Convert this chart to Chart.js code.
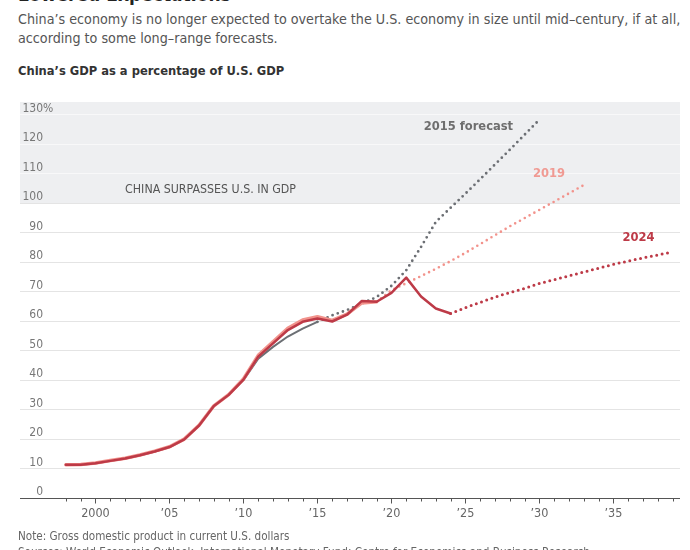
<!DOCTYPE html>
<html>
<head>
<meta charset="utf-8">
<script src="https://cdn.jsdelivr.net/npm/chart.js@4.4.1/dist/chart.umd.min.js"></script>
<style>
  html, body { margin: 0; padding: 0; background: #fff; }
  body { width: 690px; height: 550px; overflow: hidden; position: relative;
         font-family: "Liberation Sans Narrow", "DejaVu Sans Condensed", sans-serif; }
  .txt { position: absolute; left: 18px; white-space: nowrap; }
  #title { top: -17px; font-size: 19px; line-height: 22px; font-weight: bold; color: #222; }
  #dek { top: 10px; font-size: 14.2px; line-height: 18.5px; color: #555; }
  #sub { top: 63px; font-size: 12.8px; line-height: 16px; font-weight: bold; color: #333; }
  #note { top: 529px; font-size: 11.6px; line-height: 15px; color: #666; }
  #source { top: 545px; font-size: 11.6px; line-height: 15px; color: #666; }
  #wrap { position: absolute; left: 0; top: 90px; width: 690px; height: 440px; }
</style>
</head>
<body>
<div class="txt" id="title">Lowered Expectations</div>
<div class="txt" id="dek">China’s economy is no longer expected to overtake the U.S. economy in size until mid–century, if at all,<br>according to some long–range forecasts.</div>
<div class="txt" id="sub">China’s GDP as a percentage of U.S. GDP</div>
<div id="wrap"><canvas id="gdpChart"></canvas></div>
<div class="txt" id="note">Note: Gross domestic product in current U.S. dollars</div>
<div class="txt" id="source">Sources: World Economic Outlook, International Monetary Fund; Centre for Economics and Business Research</div>
<script>
// actual data as published in each vintage
const actualStart = 1998;
const actual2024 = [11.3, 11.3, 11.8, 12.6, 13.4, 14.5, 15.8, 17.3, 19.9, 24.6, 31.2, 35.0, 40.2, 48.0,
  52.5, 57.0, 59.8, 60.9, 59.9, 62.2, 66.9, 66.6, 69.6, 74.8, 68.4, 64.3, 62.6];
const actual2019 = [11.3, 11.4, 11.9, 12.7, 13.5, 14.6, 15.9, 17.4, 20.0, 24.7, 31.3, 35.1, 40.4, 48.4,
  53.0, 57.6, 60.4, 61.5, 60.3, 62.4, 66.2, 66.6];
const actual2015 = [11.3, 11.3, 11.8, 12.6, 13.4, 14.5, 15.8, 17.3, 19.9, 24.6, 31.2, 35.0, 40.0, 47.3,
  51.3, 54.8, 57.5, 59.8];

// forecasts
const forecast2015Start = 2015;
const forecast2015 = [59.8, 62.0, 63.8, 66.0, 68.2, 72.0, 77.3, 85.2, 93.7, 98.5, 103.3, 108.2, 113.2,
  118.2, 123.3, 128.4];
const forecast2019Start = 2019;
const forecast2019 = [66.6, 70.5, 72.9, 75.3, 77.8, 80.4, 83.2, 86.2, 89.2, 92.2, 95.0, 97.8, 100.6,
  103.4, 106.2];
const forecast2024Start = 2024;
const forecast2024 = [62.6, 64.6, 66.4, 68.2, 69.7, 71.1, 72.8, 74.1, 75.4, 76.7, 78.0, 79.3, 80.4,
  81.5, 82.5, 83.5];

const yTicks = [0, 10, 20, 30, 40, 50, 60, 70, 80, 90, 100, 110, 120, 130];
const xTickYears = [2000, 2005, 2010, 2015, 2020, 2025, 2030, 2035];
const xTickLabels = ['2000', '’05', '’10', '’15', '’20', '’25', '’30', '’35'];
const minorTickFrom = 1998;
const minorTickTo = 2039;
const bandFrom = 100;
const bandLabel = 'CHINA SURPASSES U.S. IN GDP';

const RED = '#bd3a47';
const SALMON = '#f2938c';
const GRAY = '#6c6f74';
const FONT = '"Liberation Sans Narrow", "DejaVu Sans Condensed", sans-serif';

const toPoints = (start, values) => values.map((v, i) => ({ x: start + i, y: v }));

const solid = (data, color, width) => ({
  data, borderColor: color, borderWidth: width, pointRadius: 0, tension: 0,
  borderJoinStyle: 'round', borderCapStyle: 'round', fill: false,
});
const dotted = (data, color, width) => ({
  ...solid(data, color, width), borderDash: [0, 5.5],
});

const decor = {
  id: 'decor',
  beforeDraw(chart) {
    const { ctx, chartArea: a, scales: { y } } = chart;
    ctx.save();
    ctx.fillStyle = '#eeeff1';
    const y100 = y.getPixelForValue(bandFrom);
    ctx.fillRect(a.left, a.top, a.right - a.left, y100 - a.top);
    ctx.restore();
  },
  afterDraw(chart) {
    const { ctx, chartArea: a, scales: { x, y } } = chart;
    ctx.save();
    // x axis line and ticks
    ctx.strokeStyle = '#555';
    ctx.lineWidth = 1;
    ctx.beginPath();
    ctx.moveTo(a.left, Math.round(a.bottom) + 0.5);
    ctx.lineTo(a.right, Math.round(a.bottom) + 0.5);
    for (let yr = minorTickFrom; yr <= minorTickTo; yr++) {
      const px = Math.round(x.getPixelForValue(yr)) + 0.5;
      const len = yr % 5 === 0 ? 5 : 3;
      ctx.moveTo(px, Math.round(a.bottom) + 0.5);
      ctx.lineTo(px, Math.round(a.bottom) + 0.5 + len);
    }
    ctx.stroke();

    // x labels
    ctx.fillStyle = '#666';
    ctx.font = '12.5px ' + FONT;
    ctx.textAlign = 'center';
    ctx.textBaseline = 'middle';
    xTickYears.forEach((yr, i) => {
      ctx.fillText(xTickLabels[i], x.getPixelForValue(yr), a.bottom + 16);
    });

    // y labels, right aligned, sitting above the gridline
    ctx.fillStyle = '#777';
    ctx.font = '12px ' + FONT;
    ctx.textBaseline = 'alphabetic';
    const labelRight = a.left + 23;
    yTicks.forEach((v, i) => {
      const py = y.getPixelForValue(v) - 3;
      ctx.textAlign = 'right';
      ctx.fillText(String(v), labelRight, py);
      if (i === yTicks.length - 1) {
        ctx.textAlign = 'left';
        ctx.fillText('%', labelRight, py);
      }
    });

    // annotations
    ctx.textBaseline = 'middle';
    ctx.textAlign = 'left';
    ctx.fillStyle = '#555';
    ctx.font = '12.3px ' + FONT;
    ctx.fillText(bandLabel, x.getPixelForValue(2002), y.getPixelForValue(104.5));

    ctx.font = 'bold 12.8px ' + FONT;
    ctx.textAlign = 'center';
    ctx.fillStyle = '#6e6e6e';
    ctx.fillText('2015 forecast', x.getPixelForValue(2025.2), y.getPixelForValue(126.1));
    ctx.fillStyle = '#f09a93';
    ctx.fillText('2019', x.getPixelForValue(2030.65), y.getPixelForValue(110.1));
    ctx.fillStyle = RED;
    ctx.fillText('2024', x.getPixelForValue(2036.7), y.getPixelForValue(88.3));
    ctx.restore();
  },
};

const ctx = document.getElementById('gdpChart').getContext('2d');
new Chart(ctx, {
  type: 'line',
  data: {
    datasets: [
      solid(toPoints(actualStart, actual2024), RED, 2.5),
      dotted(toPoints(forecast2024Start, forecast2024), RED, 3),
      solid(toPoints(actualStart, actual2019), SALMON, 3.5),
      dotted(toPoints(forecast2019Start, forecast2019), SALMON, 2.6),
      solid(toPoints(actualStart, actual2015), GRAY, 2),
      dotted(toPoints(forecast2015Start, forecast2015), GRAY, 2.8),
    ],
  },
  options: {
    responsive: true,
    maintainAspectRatio: false,
    animation: false,
    layout: { padding: { left: 20, right: 10, top: 12, bottom: 0 } },
    plugins: { legend: { display: false }, tooltip: { enabled: false } },
    scales: {
      x: {
        type: 'linear',
        min: 1994.9,
        max: 2039.5,
        grid: { display: false },
        border: { display: false },
        ticks: { display: false },
        afterFit: (scale) => { scale.height = 32; },
      },
      y: {
        min: 0,
        max: 134.4,
        afterBuildTicks: (scale) => { scale.ticks = yTicks.map((v) => ({ value: v })); },
        grid: {
          drawTicks: false,
          color: (c) => (c.tick && c.tick.value > bandFrom ? '#f8f8f9' : '#e4e4e4'),
        },
        border: { display: false },
        ticks: { display: false },
        afterFit: (scale) => { scale.width = 0; },
      },
    },
  },
  plugins: [decor],
});
</script>
</body>
</html>
